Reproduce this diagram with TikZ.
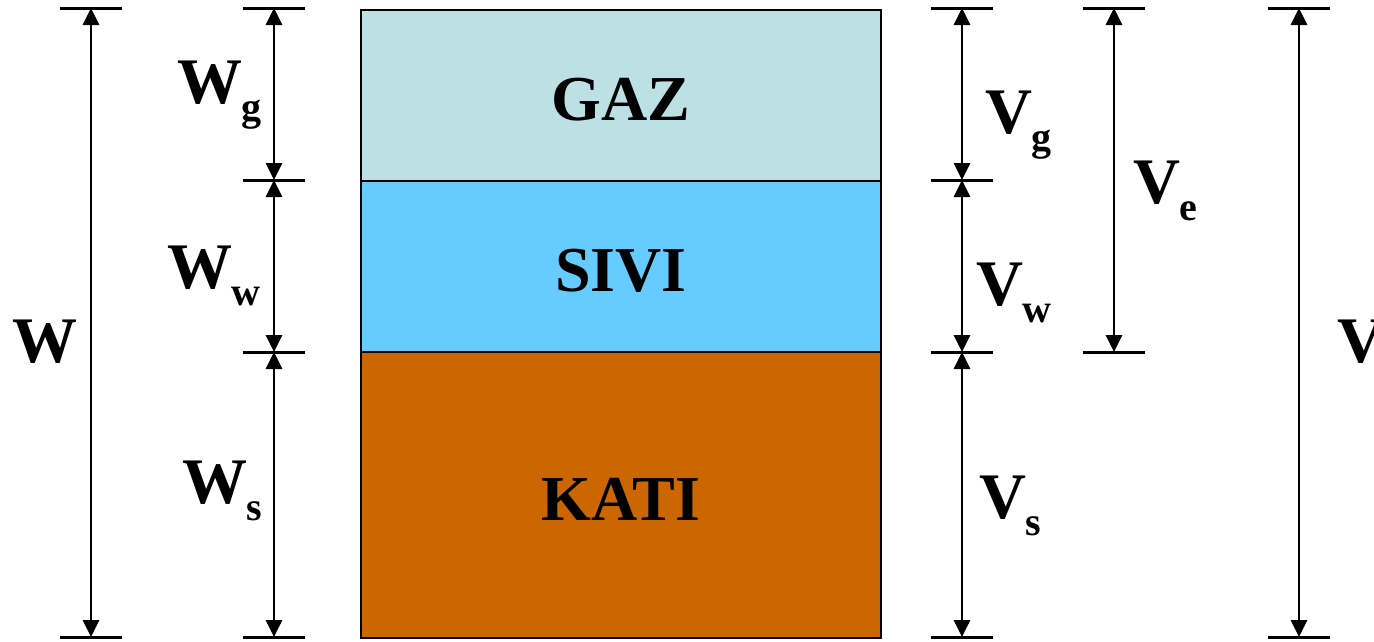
\documentclass[tikz,border=0pt]{standalone}
\usepackage{fontspec}
\setmainfont{Liberation Serif}
\usetikzlibrary{arrows.meta}
\definecolor{gazc}{RGB}{189,224,228}
\definecolor{sivic}{RGB}{102,204,255}
\definecolor{katic}{RGB}{204,102,0}
\newcommand{\dimlab}[2]{\fontsize{65}{65}\selectfont #1\kern-1pt\raisebox{-17pt}{\fontsize{40}{40}\selectfont #2}}
\begin{document}
\begin{tikzpicture}[x=1pt,y=-1pt,
  dimline/.style={{Triangle[width=16pt,length=17pt]}-{Triangle[width=16pt,length=17pt]}, line width=2.8pt},
  tickln/.style={line width=3pt},
  lab/.style={anchor=base west, inner sep=0pt, font=\bfseries},
  phase/.style={draw=black, line width=2.6pt},
  phasetext/.style={anchor=base, inner sep=0pt, font=\bfseries\fontsize{64}{64}\selectfont}]
\useasboundingbox (0,0) rectangle (1374,641);

% phases
\path[phase, fill=gazc] (361,10) rectangle (881,181);
\path[phase, fill=sivic] (361,181) rectangle (881,352);
\path[phase, fill=katic] (361,352) rectangle (881,638);
\node[phasetext] (gaz) at (621,120) {GAZ};
\node[phasetext] (sivi) at (621,291) {SIVI};
\node[phasetext] (kati) at (621,520) {KATI};

% tick coordinates
\foreach \n/\x/\y in {Wa/91/8, Wb/91/637,
  wa/274/8, wb/274/180, wc/274/352, wd/274/637,
  va/962/8, vb/962/180, vc/962/352, vd/962/637,
  ea/1114/8, eb/1114/352,
  Va/1299/8, Vb/1299/637}
  {\coordinate (\n) at (\x,\y);
   \draw[tickln] ([xshift=-31pt]\n) -- ([xshift=31pt]\n);}

% dimension lines
\draw[dimline] (Wa) -- (Wb);
\draw[dimline] (wa) -- (wb);
\draw[dimline] (wb) -- (wc);
\draw[dimline] (wc) -- (wd);
\draw[dimline] (va) -- (vb);
\draw[dimline] (vb) -- (vc);
\draw[dimline] (vc) -- (vd);
\draw[dimline] (ea) -- (eb);
\draw[dimline] (Va) -- (Vb);

% labels
\node[lab] (lW) at (12,362) {\fontsize{65}{65}\selectfont W};
\node[lab] (lWg) at (177,103) {\dimlab{W}{g}};
\node[lab] (lWw) at (167,288) {\dimlab{W}{w}};
\node[lab] (lWs) at (182,503) {\dimlab{W}{s}};
\node[lab] (lVg) at (985,133) {\dimlab{V}{g}};
\node[lab] (lVe) at (1133,203) {\dimlab{V}{e}};
\node[lab] (lVw) at (976,305) {\dimlab{V}{w}};
\node[lab] (lVs) at (979,518) {\dimlab{V}{s}};
\node[lab] (lV) at (1337,362) {\fontsize{65}{65}\selectfont V};
\end{tikzpicture}
\end{document}
